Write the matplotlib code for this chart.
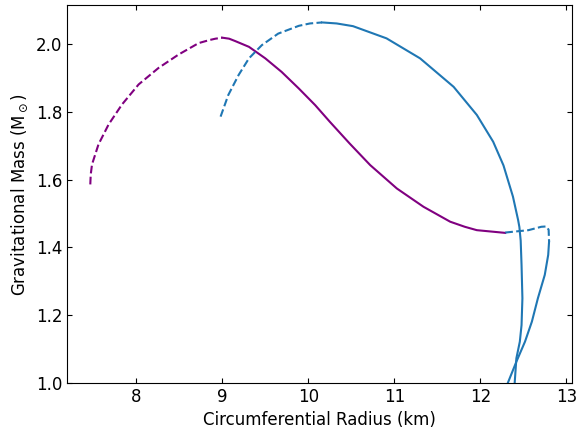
import matplotlib
matplotlib.use("Agg")
import matplotlib.pyplot as plt

# purple EOS: unstable (dashed) and stable (solid) branches
purple_dash_r = [7.465, 7.47, 7.485, 7.56, 7.678, 7.834, 8.027, 8.26, 8.49, 8.725, 8.85, 8.92, 9.0]
purple_dash_m = [1.586, 1.615, 1.645, 1.704, 1.763, 1.822, 1.881, 1.930, 1.969, 2.003, 2.012, 2.016, 2.019]
purple_solid_r = [9.0, 9.08, 9.15, 9.31, 9.5, 9.69, 9.89, 10.08, 10.25, 10.48, 10.72,
                  11.03, 11.34, 11.65, 11.82, 11.96, 12.29]
purple_solid_m = [2.019, 2.016, 2.009, 1.992, 1.958, 1.918, 1.869, 1.82, 1.771, 1.707, 1.643,
                  1.574, 1.52, 1.476, 1.461, 1.451, 1.443]

# blue EOS, main branch
blue_dash_r = [8.98, 9.07, 9.19, 9.31, 9.46, 9.65, 9.89, 10.02, 10.16]
blue_dash_m = [1.786, 1.85, 1.909, 1.958, 1.997, 2.031, 2.054, 2.061, 2.064]
blue_solid_r = [10.16, 10.33, 10.52, 10.91, 11.30, 11.69, 11.96, 12.15, 12.27, 12.38, 12.44,
                12.455, 12.47, 12.48, 12.49, 12.48, 12.46, 12.42, 12.40]
blue_solid_m = [2.064, 2.061, 2.053, 2.017, 1.958, 1.874, 1.791, 1.712, 1.642, 1.55, 1.481,
                1.46, 1.42, 1.348, 1.25, 1.171, 1.122, 1.073, 1.0]

# blue EOS, twin branch
twin_dash_r = [12.29, 12.56, 12.71, 12.77, 12.795, 12.80]
twin_dash_m = [1.444, 1.451, 1.461, 1.462, 1.452, 1.417]
twin_solid_r = [12.80, 12.79, 12.75, 12.67, 12.60, 12.52, 12.42, 12.32]
twin_solid_m = [1.417, 1.378, 1.319, 1.25, 1.181, 1.122, 1.063, 1.0]

fig = plt.figure(figsize=(5.79, 4.29), dpi=100)
ax = fig.add_axes([0.1157, 0.1072, 0.8727, 0.8808])

ax.plot(purple_dash_r, purple_dash_m, color="purple", ls="--", lw=1.5)
ax.plot(purple_solid_r, purple_solid_m, color="purple", lw=1.5, solid_joinstyle="round")
ax.plot(blue_dash_r, blue_dash_m, color="tab:blue", ls="--", lw=1.5)
ax.plot(blue_solid_r, blue_solid_m, color="tab:blue", lw=1.5, solid_joinstyle="round")
ax.plot(twin_dash_r, twin_dash_m, color="tab:blue", ls="--", lw=1.5)
ax.plot(twin_solid_r, twin_solid_m, color="tab:blue", lw=1.5, solid_joinstyle="round")

ax.set_xlim(7.194, 13.07)
ax.set_ylim(1.0, 2.115)
ax.set_yticks([1.0, 1.2, 1.4, 1.6, 1.8, 2.0])
ax.set_yticklabels(["1.0", "1.2", "1.4", "1.6", "1.8", "2.0"])
ax.tick_params(direction="in", top=True, right=True, labelsize=12)
ax.set_xlabel("Circumferential Radius (km)", fontsize=12)
ax.set_ylabel(r"Gravitational Mass (M$_\odot$)", fontsize=12)

fig.savefig("out.png", dpi=100)
